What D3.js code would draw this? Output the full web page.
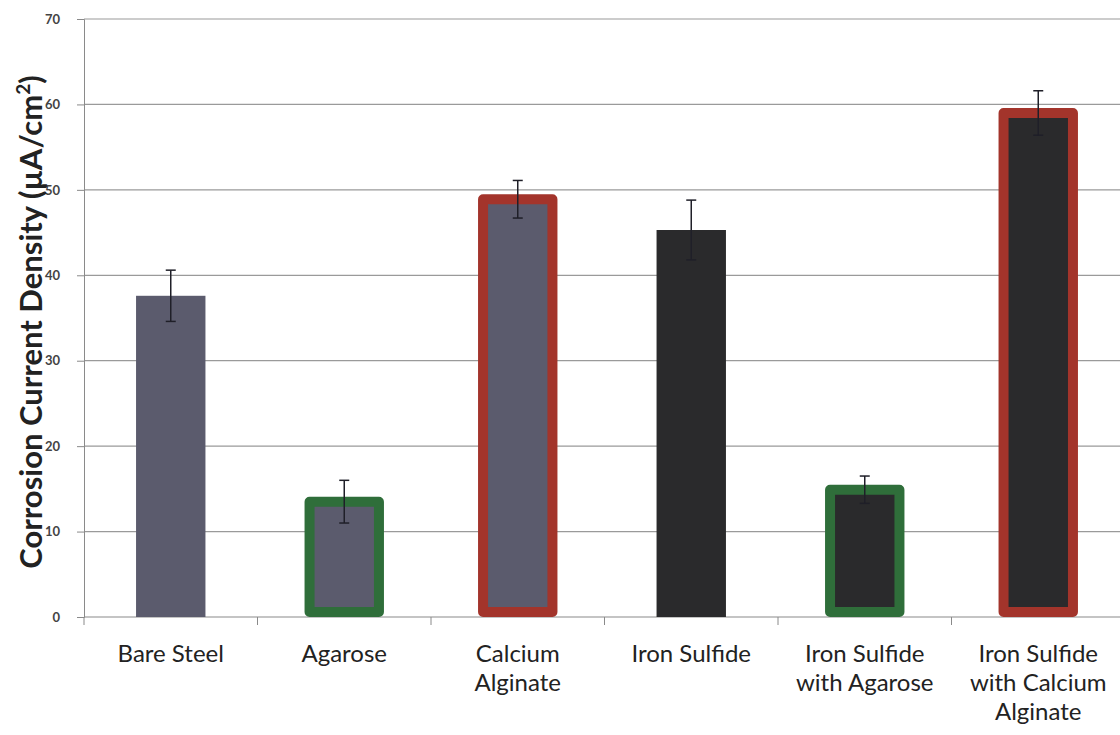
<!DOCTYPE html>
<html>
<head>
<meta charset="utf-8">
<script src="https://cdn.jsdelivr.net/npm/d3@7"></script>
<style>
  body { margin: 0; background: #fff; }
  text { font-family: Lato, "Open Sans", sans-serif; }
</style>
</head>
<body>
<div id="plot1"></div>
<script>
// values
const categories = [
  ['Bare Steel'],
  ['Agarose'],
  ['Calcium', 'Alginate'],
  ['Iron Sulfide'],
  ['Iron Sulfide', 'with Agarose'],
  ['Iron Sulfide', 'with Calcium', 'Alginate']
];
const values = [37.6, 13.5, 48.9, 45.3, 14.9, 59.0];
const errors = [3.0, 2.5, 2.2, 3.5, 1.6, 2.6];
const fills = ['steel', 'steel', 'steel', 'sulfide', 'sulfide', 'sulfide'];
const borders = ['none', 'agarose', 'alginate', 'none', 'agarose', 'alginate'];
const yTicks = [0, 10, 20, 30, 40, 50, 60, 70];

const width = 1120;
const height = 735;
const margin = {top: 19, bottom: 118, left: 84, right: -5};

const fillColor = {steel: '#5b5b6d', sulfide: '#2a2a2c'};
const borderColor = {agarose: '#2f6e3a', alginate: '#a3342b'};

var svg = d3.select('#plot1')
    .append('svg')
    .attr('width', width)
    .attr('height', height);

const x = d3.scaleBand()
    .domain(d3.range(values.length))
    .range([margin.left, width - margin.right])
    .paddingInner(0.6)
    .paddingOuter(0.3);

const y = d3.scaleLinear()
    .domain([0, 70])
    .range([height - margin.bottom, margin.top]);

// gridlines
svg.append('g')
    .selectAll('line')
    .data(yTicks.slice(1))
    .join('line')
    .attr('x1', margin.left)
    .attr('x2', width)
    .attr('y1', d => y(d))
    .attr('y2', d => y(d))
    .attr('stroke', '#9a9a9a')
    .attr('stroke-width', 1.2);

// y axis
function yAxis(g) {
    g.attr('transform', `translate(${margin.left},0)`)
        .call(d3.axisLeft(y).tickValues(yTicks).tickSize(7).tickPadding(17))
        .call(g => g.select('.domain').attr('stroke', '#8a8a8a'))
        .call(g => g.selectAll('.tick line').attr('stroke', '#8a8a8a'))
        .call(g => g.selectAll('.tick text')
            .attr('font-size', '13px')
            .attr('font-weight', 'bold')
            .attr('fill', '#444'));
}
svg.append('g').call(yAxis);

// x axis: ticks at band boundaries
const bounds = d3.range(values.length + 1).map(i => margin.left + i * (width - margin.right - margin.left) / values.length);
svg.append('line')
    .attr('x1', margin.left).attr('x2', width)
    .attr('y1', y(0)).attr('y2', y(0))
    .attr('stroke', '#8a8a8a').attr('stroke-width', 1.2);
svg.append('g')
    .selectAll('line')
    .data(bounds)
    .join('line')
    .attr('x1', d => d).attr('x2', d => d)
    .attr('y1', y(0)).attr('y2', y(0) + 8)
    .attr('stroke', '#8a8a8a');

// bars
const bw = 10;
svg.append('g')
    .selectAll('rect')
    .data(values)
    .join('rect')
    .attr('x', (d, i) => x(i))
    .attr('y', d => y(d))
    .attr('width', x.bandwidth())
    .attr('height', (d, i) => y(0) - y(d) - (borders[i] === 'none' ? 0 : bw / 2))
    .attr('fill', (d, i) => fillColor[fills[i]])
    .attr('stroke', (d, i) => borders[i] === 'none' ? 'none' : borderColor[borders[i]])
    .attr('stroke-width', bw)
    .attr('stroke-linejoin', 'round');

// error bars
const eb = svg.append('g')
    .attr('stroke', '#1f1f28')
    .attr('stroke-width', 1.5);
eb.selectAll('line.v')
    .data(values)
    .join('line')
    .attr('class', 'v')
    .attr('x1', (d, i) => x(i) + x.bandwidth() / 2)
    .attr('x2', (d, i) => x(i) + x.bandwidth() / 2)
    .attr('y1', (d, i) => y(d + errors[i]))
    .attr('y2', (d, i) => y(d - errors[i]));
eb.selectAll('line.cap')
    .data(values.flatMap((d, i) => [[i, d + errors[i]], [i, d - errors[i]]]))
    .join('line')
    .attr('class', 'cap')
    .attr('x1', d => x(d[0]) + x.bandwidth() / 2 - 5)
    .attr('x2', d => x(d[0]) + x.bandwidth() / 2 + 5)
    .attr('y1', d => y(d[1]))
    .attr('y2', d => y(d[1]));

// category labels
const lab = svg.append('g')
    .selectAll('text')
    .data(categories)
    .join('text')
    .attr('x', (d, i) => x(i) + x.bandwidth() / 2)
    .attr('y', y(0) + 45)
    .attr('text-anchor', 'middle')
    .attr('font-size', '24px')
    .attr('fill', '#222');
lab.selectAll('tspan')
    .data(d => d)
    .join('tspan')
    .attr('x', function () { return this.parentNode.getAttribute('x'); })
    .attr('dy', (d, j) => j === 0 ? 0 : 29)
    .text(d => d);

// y title
const title = svg.append('text')
    .attr('transform', `translate(42,${(y(0) + y(70)) / 2 + 4}) rotate(-90)`)
    .attr('text-anchor', 'middle')
    .attr('font-size', '31px')
    .attr('font-weight', 'bold')
    .attr('fill', '#222');
title.append('tspan').text('Corrosion Current Density (µA/cm');
title.append('tspan').attr('font-size', '19px').attr('dy', -12).text('2');
title.append('tspan').attr('dy', 12).text(')');
</script>
</body>
</html>
